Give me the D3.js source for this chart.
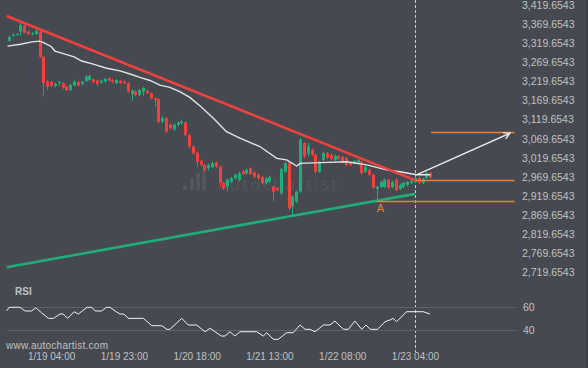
<!DOCTYPE html>
<html>
<head>
<meta charset="utf-8">
<script src="https://cdn.jsdelivr.net/npm/d3@7"></script>
<style>
html, body { margin: 0; padding: 0; background: #46494f; }
svg { display: block; }
text { font-family: "Liberation Sans", Arial, sans-serif; }
</style>
</head>
<body>
<svg id="chart" width="588" height="368"></svg>
<script>
// hourly candles, index 0..110
var openP  = [3326,3339,3341,3350,3365,3350,3343,3344,3350,3284,3219,3218,3208,3216,3215,3206,3197,3209,3218,3213,3221,3223,3225,3222,3216,3219,3228,3223,3215,3221,3219,3215,3187,3193,3184,3193,3195,3189,3175,3173,3114,3123,3106,3094,3106,3110,3112,3079,3049,3033,3012,3001,2992,2995,3007,2996,2953,2944,2957,2966,2962,2983,2979,2992,2981,2975,2969,2953,2957,2944,2941,2927,2983,3007,2892,2905,2931,3058,3031,3040,3027,2983,3014,3032,3027,3014,3024,3022,3019,3006,3006,3006,3009,2983,2988,2975,2938,2943,2943,2962,2943,2962,2938,2943,2948,2954,2956,2967,2954,2967,2980];
var highP  = [3339,3345,3346,3372,3368,3352,3349,3356,3353,3286,3223,3221,3216,3221,3218,3209,3213,3224,3221,3221,3236,3237,3228,3224,3225,3229,3230,3226,3226,3223,3222,3218,3199,3196,3200,3206,3198,3191,3178,3176,3128,3126,3109,3109,3115,3119,3115,3082,3052,3036,3015,3004,3004,3010,3010,2999,2956,2965,2969,2978,2983,2987,2991,2995,2984,2978,2972,2969,2972,2947,2944,2993,3009,3010,2921,2934,3071,3061,3058,3044,3030,3012,3036,3035,3030,3028,3027,3025,3022,3009,3014,3017,3012,2999,2991,2978,2946,2960,2965,2965,2960,2965,2952,2957,2959,2962,2970,2970,2967,2983,2983];
var lowP   = [3323,3337,3339,3339,3345,3341,3340,3341,3281,3181,3197,3204,3204,3208,3200,3194,3195,3207,3206,3210,3218,3221,3214,3207,3213,3216,3219,3216,3212,3212,3212,3190,3169,3180,3181,3181,3186,3173,3153,3110,3110,3084,3093,3090,3102,3107,3076,3045,3028,2996,2997,2984,2986,2992,2993,2944,2935,2931,2954,2962,2958,2974,2976,2974,2967,2962,2949,2949,2954,2905,2932,2922,2980,2883,2865,2901,2927,3019,3023,3023,2979,2980,3011,3016,3014,3011,3014,3006,2998,2998,3003,3003,2976,2980,2972,2937,2905,2940,2940,2938,2940,2932,2935,2940,2945,2951,2953,2951,2951,2964,2966];
var closeP = [3335,3342,3344,3367,3347,3344,3346,3352,3284,3215,3206,3208,3213,3218,3204,3197,3210,3218,3209,3219,3232,3234,3218,3213,3222,3226,3222,3219,3223,3215,3215,3193,3195,3184,3197,3202,3189,3175,3171,3114,3123,3088,3097,3106,3112,3114,3079,3049,3031,3009,3001,2988,3001,3006,2996,2953,2940,2962,2966,2975,2979,2977,2988,2977,2970,2966,2953,2966,2969,2931,2935,2990,3005,2887,2918,2931,3066,3023,3049,3027,2983,3009,3032,3019,3017,3024,3017,3009,3001,3001,3011,3014,2980,2996,2975,2941,2943,2956,2962,2941,2956,2935,2948,2954,2956,2959,2967,2954,2964,2980,2969];

// moving average, read at visible vertices
var maIdx = [-0.4,3,6,8,9,11,12,14,17,19,22,25.5,29,31.6,34.2,36.8,39.4,42,44.6,47.3,49.9,53.3,56.8,60.3,65.5,69.9,72.5,75.1,76,81.2,88.2,93.4,98.6,102.1,106.4,110];
var maVal = [3312,3317,3323,3325,3321,3311,3299,3293,3284,3273,3265,3254,3247,3239,3230,3222,3210,3204,3193,3177,3155,3124,3088,3071,3049,3018,3014,2998,3005,3007,3009,3001,2988,2983,2975,2975];

// RSI vertices
var rsiIdx = [-0.6,0.1,2.9,4.2,5.9,7.0,8.5,10.3,11.6,13.3,14.2,15.3,17.0,18.1,20.4,21.6,22.5,24.2,25.5,26.4,27.7,29.0,30.0,31.1,35.1,37.3,39.9,41.2,42.0,45.1,46.8,49.0,51.2,52.5,53.8,55.5,56.4,57.7,59.0,60.3,64.7,66.4,67.3,69.0,70.3,72.5,74.2,76.0,77.3,78.6,79.9,82.1,83.8,85.1,87.3,88.6,90.3,92.1,93.2,94.3,96.2,98.2,99.5,100.3,101.2,103.8,108.2,109.9];
var rsiVal = [56.6,59.5,59.5,56.3,56.3,59.1,54.8,50.0,50.0,53.7,53.7,50.0,55.7,53.7,59.5,59.5,56.3,56.3,59.5,59.5,56.3,53.7,53.7,50.0,50.0,43.7,43.7,40.6,40.6,50.0,44.3,44.3,38.5,41.5,38.5,34.8,34.8,38.5,34.8,38.5,38.5,34.8,37.7,32.0,32.0,37.7,37.7,44.3,40.6,40.6,38.5,44.3,44.3,47.7,40.6,40.6,47.7,40.6,44.3,40.6,40.6,47.1,48.6,50.0,47.1,55.7,55.7,53.7];

// pattern lines [index, price]
var resistance = [[-0.6, 3391], [106.5, 2959]];
var support    = [[-0.6, 2733], [106, 2925]];
var forecast   = [[106.4, 2975], [130.8, 3084]];
var levelPrice = [3086, 2961, 2906];
var levelFrom  = [110.2, 106.2, 96];
var levelTo    = 132;
var pointIdx = 96, pointLabel = "A";

var tickIdx    = [11, 30, 49, 68, 87, 106];
var tickLabels = ["1/19 04:00", "1/19 23:00", "1/20 18:00", "1/21 13:00", "1/22 08:00", "1/23 04:00"];
var priceTicks = [3419.6543,3369.6543,3319.6543,3269.6543,3219.6543,3169.6543,3119.6543,3069.6543,3019.6543,2969.6543,2919.6543,2869.6543,2819.6543,2769.6543,2719.6543];
var rsiTicks = [40, 60];
var cursorIdx = 106;

var W = 588, H = 368;
var up = "#1fae7b", down = "#f0413f", orange = "#f07e3a", grey = "#bfc1c4";

var svg = d3.select("#chart");
svg.append("rect").attr("width", W).attr("height", H).attr("fill", "#46494f");
svg.append("rect").attr("x", 586).attr("width", 2).attr("height", H).attr("fill", "#3d4045");

var x = d3.scaleLinear().domain([0, 110]).range([9, 430.3]);
var y = d3.scaleLinear().domain([2719.6543, 3419.6543]).range([272.3, 5]);
var yR = d3.scaleLinear().domain([40, 60]).range([330, 306.7]);

// watermark
var wm = svg.append("g").attr("fill", "#53565c");
[[183, 5], [190, 12], [196, 17], [202, 21]].forEach(function (b) {
    wm.append("rect").attr("x", b[0]).attr("y", 190 - b[1]).attr("width", 4).attr("height", b[1]);
});
wm.append("text").attr("x", 218).attr("y", 190).attr("font-size", 17).attr("textLength", 119)
    .style("font-family", "'Open Sans', sans-serif").text("autochartist");

// cursor line
svg.append("line").attr("x1", Math.round(x(cursorIdx)) + 0.5).attr("x2", Math.round(x(cursorIdx)) + 0.5)
    .attr("y1", 0).attr("y2", 352).attr("stroke", "#c9cbce").attr("stroke-dasharray", "3,2");

// candles
var candles = d3.range(openP.length).map(function (i) {
    return { i: i, o: openP[i], h: highP[i], l: lowP[i], c: closeP[i] };
});
var cg = svg.append("g");
cg.selectAll("line").data(candles).enter().append("line")
    .attr("x1", function (d) { return Math.round(x(d.i)) + 0.5; })
    .attr("x2", function (d) { return Math.round(x(d.i)) + 0.5; })
    .attr("y1", function (d) { return y(d.h); })
    .attr("y2", function (d) { return y(d.l); })
    .attr("stroke", function (d) { return d.c >= d.o ? up : down; });
cg.selectAll("rect").data(candles).enter().append("rect")
    .attr("x", function (d) { return Math.round(x(d.i)) - 1; })
    .attr("width", 3)
    .attr("y", function (d) { return y(Math.max(d.o, d.c)); })
    .attr("height", function (d) { return Math.max(1, Math.abs(y(d.o) - y(d.c))); })
    .attr("fill", function (d) { return d.c >= d.o ? up : down; });

var line = d3.line().x(function (d) { return x(d[0]); }).y(function (d) { return y(d[1]); });

// moving average
svg.append("path").datum(d3.zip(maIdx, maVal)).attr("d", line)
    .attr("fill", "none").attr("stroke", "#e4e4e4").attr("stroke-width", 1.4);

// triangle
svg.append("path").datum(resistance).attr("d", line)
    .attr("fill", "none").attr("stroke", down).attr("stroke-width", 2.6);
svg.append("path").datum(support).attr("d", line)
    .attr("fill", "none").attr("stroke", up).attr("stroke-width", 2.6);

// levels
levelPrice.forEach(function (p, k) {
    svg.append("line").attr("x1", x(levelFrom[k])).attr("x2", x(levelTo))
        .attr("y1", Math.round(y(p)) + 0.5).attr("y2", Math.round(y(p)) + 0.5)
        .attr("stroke", orange).attr("stroke-width", 1.3);
});
svg.append("text").attr("x", x(pointIdx)).attr("y", y(levelPrice[2]) + 10.5)
    .attr("fill", orange).attr("font-size", 11).text(pointLabel);

// forecast arrow
svg.append("path").datum(forecast).attr("d", line)
    .attr("fill", "none").attr("stroke", "#e8e8e8").attr("stroke-width", 1.4);
var ax = x(forecast[1][0]), ay = y(forecast[1][1]);
var ang = Math.atan2(ay - y(forecast[0][1]), ax - x(forecast[0][0]));
var head = [[ax - 7 * Math.cos(ang - 0.5), ay - 7 * Math.sin(ang - 0.5)], [ax, ay],
            [ax - 7 * Math.cos(ang + 0.5), ay - 7 * Math.sin(ang + 0.5)]];
svg.append("path").attr("d", d3.line()(head))
    .attr("fill", "none").attr("stroke", "#e8e8e8").attr("stroke-width", 1.4);

// price axis
var yAxis = svg.append("g").attr("transform", "translate(522,0)")
    .call(d3.axisRight(y).tickValues(priceTicks).tickFormat(d3.format(",.4f")).tickSize(0).tickPadding(0));
yAxis.select(".domain").remove();
yAxis.selectAll("text").attr("fill", grey).attr("font-size", 10.5).style("font-family", "'Liberation Sans', Arial, sans-serif");

// RSI panel
svg.append("text").attr("x", 15).attr("y", 295).attr("fill", grey)
    .attr("font-size", 10).attr("font-weight", "bold").text("RSI");
rsiTicks.forEach(function (t) {
    svg.append("line").attr("x1", 7).attr("x2", 517)
        .attr("y1", Math.round(yR(t)) + 0.5).attr("y2", Math.round(yR(t)) + 0.5)
        .attr("stroke", "#5f6268");
});
var rAxis = svg.append("g").attr("transform", "translate(523,0)")
    .call(d3.axisRight(yR).tickValues(rsiTicks).tickSize(0).tickPadding(0));
rAxis.select(".domain").remove();
rAxis.selectAll("text").attr("fill", grey).attr("font-size", 10.5).style("font-family", "'Liberation Sans', Arial, sans-serif");

svg.append("path").datum(d3.zip(rsiIdx, rsiVal))
    .attr("d", d3.line().x(function (d) { return x(d[0]); }).y(function (d) { return yR(d[1]); }))
    .attr("fill", "none").attr("stroke", "#f2f2f2").attr("stroke-width", 1);

// time axis
var xAxis = svg.append("g").attr("transform", "translate(0,353)")
    .call(d3.axisBottom(x).tickValues(tickIdx).tickFormat(function (d, i) { return tickLabels[i]; })
        .tickSize(0).tickPadding(0));
xAxis.select(".domain").remove();
xAxis.selectAll("text").attr("fill", grey).attr("font-size", 10).style("font-family", "'Liberation Sans', Arial, sans-serif");

svg.append("text").attr("x", 6).attr("y", 348.5).attr("fill", grey)
    .attr("font-size", 10).attr("textLength", 102).text("www.autochartist.com");
</script>
</body>
</html>
